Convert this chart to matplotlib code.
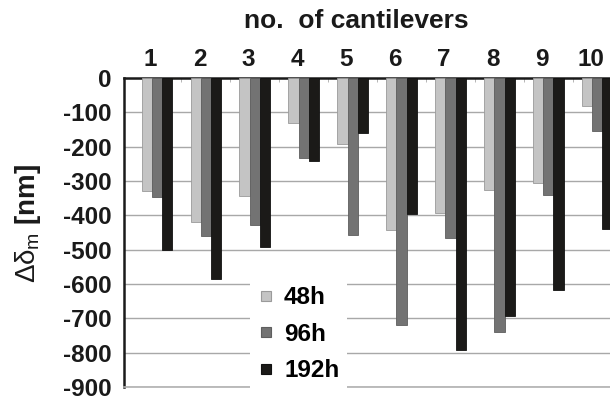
import matplotlib
matplotlib.use("Agg")
import matplotlib.pyplot as plt
from matplotlib.lines import Line2D
import numpy as np

plt.rcParams['font.family'] = ['Liberation Sans', 'DejaVu Sans']
plt.rcParams['mathtext.fontset'] = 'custom'
plt.rcParams['mathtext.rm'] = 'Liberation Sans'
plt.rcParams['mathtext.it'] = 'Liberation Sans'

categories = ['1', '2', '3', '4', '5', '6', '7', '8', '9', '10']
series_names = ['48h', '96h', '192h']
v48 = [-329, -419, -344, -132, -193, -443, -392, -327, -307, -81]
v96 = [-348, -460, -427, -232, -458, -720, -467, -741, -341, -154]
v192 = [-501, -584, -493, -241, -161, -397, -793, -694, -618, -441]
yticks = [0, -100, -200, -300, -400, -500, -600, -700, -800, -900]

colors = ['#c4c4c4', '#737373', '#1b1a18']
edges = ['#9a9a9a', '#5e5e5e', '#111111']

fig = plt.figure(figsize=(6.10, 4.01), dpi=100)
ax = fig.add_axes([124/610, 14/401, 486/610, 309/401])

x = np.arange(1, len(categories) + 1)
w = 0.21
for k, vals in enumerate([v48, v96, v192]):
    ax.bar(x + (k - 1) * w, vals, width=w, color=colors[k], edgecolor=edges[k],
           linewidth=0.6, label=series_names[k], zorder=3)

ax.set_xlim(0.325, 10.26)
ax.set_ylim(-900, 0)
ax.set_yticks(yticks)
ax.set_yticklabels([str(v) for v in yticks], fontsize=17.5, fontweight='bold', color='#1a1a1a')
ax.tick_params(axis='y', length=0, pad=9)

ax.xaxis.tick_top()
ax.set_xticks(x - 0.13)
ax.set_xticklabels(categories, fontsize=17.5, fontweight='bold', color='#1a1a1a')
ax.tick_params(axis='x', which='major', length=0, pad=5)
ax.set_xticks(np.arange(1.5, 10.5, 1), minor=True)
ax.tick_params(axis='x', which='minor', direction='in', length=3, color='#aaaaaa', top=True, bottom=False)

ax.grid(axis='y', color='#a8a8a8', linewidth=1.0, zorder=0)
ax.set_axisbelow(True)

ax.spines['right'].set_visible(False)
ax.spines['top'].set_color('#1a1a1a')
ax.spines['top'].set_linewidth(1.8)
ax.spines['left'].set_color('#1a1a1a')
ax.spines['left'].set_linewidth(1.8)
ax.spines['bottom'].set_color('#b0b0b0')
ax.spines['bottom'].set_linewidth(1.2)

ax.set_ylabel(r'$\Delta\delta_{\mathrm{m}}$ [nm]', fontsize=20, fontweight='bold', color='#1a1a1a')
ax.yaxis.set_label_coords(-0.167, 0.53)

fig.text(356/610, 1 - 21/401, 'no.  of cantilevers', ha='center', va='center',
         fontsize=19, fontweight='bold', color='#1a1a1a')

handles = [Line2D([0], [0], marker='s', linestyle='none', markersize=7,
                  markerfacecolor=colors[k], markeredgecolor=edges[k], markeredgewidth=0.8)
           for k in range(3)]
leg = ax.legend(handles, series_names, loc='upper left', bbox_to_anchor=((250-124)/486, (387-279)/309),
                borderaxespad=0, frameon=True, fancybox=False, framealpha=1, edgecolor='none',
                facecolor='white', prop={'size': 17.5, 'weight': 'bold'}, handlelength=0.7,
                handletextpad=0.4, labelspacing=0.55, borderpad=0.3)
leg.set_zorder(5)

fig.savefig('out.png', dpi=100)
